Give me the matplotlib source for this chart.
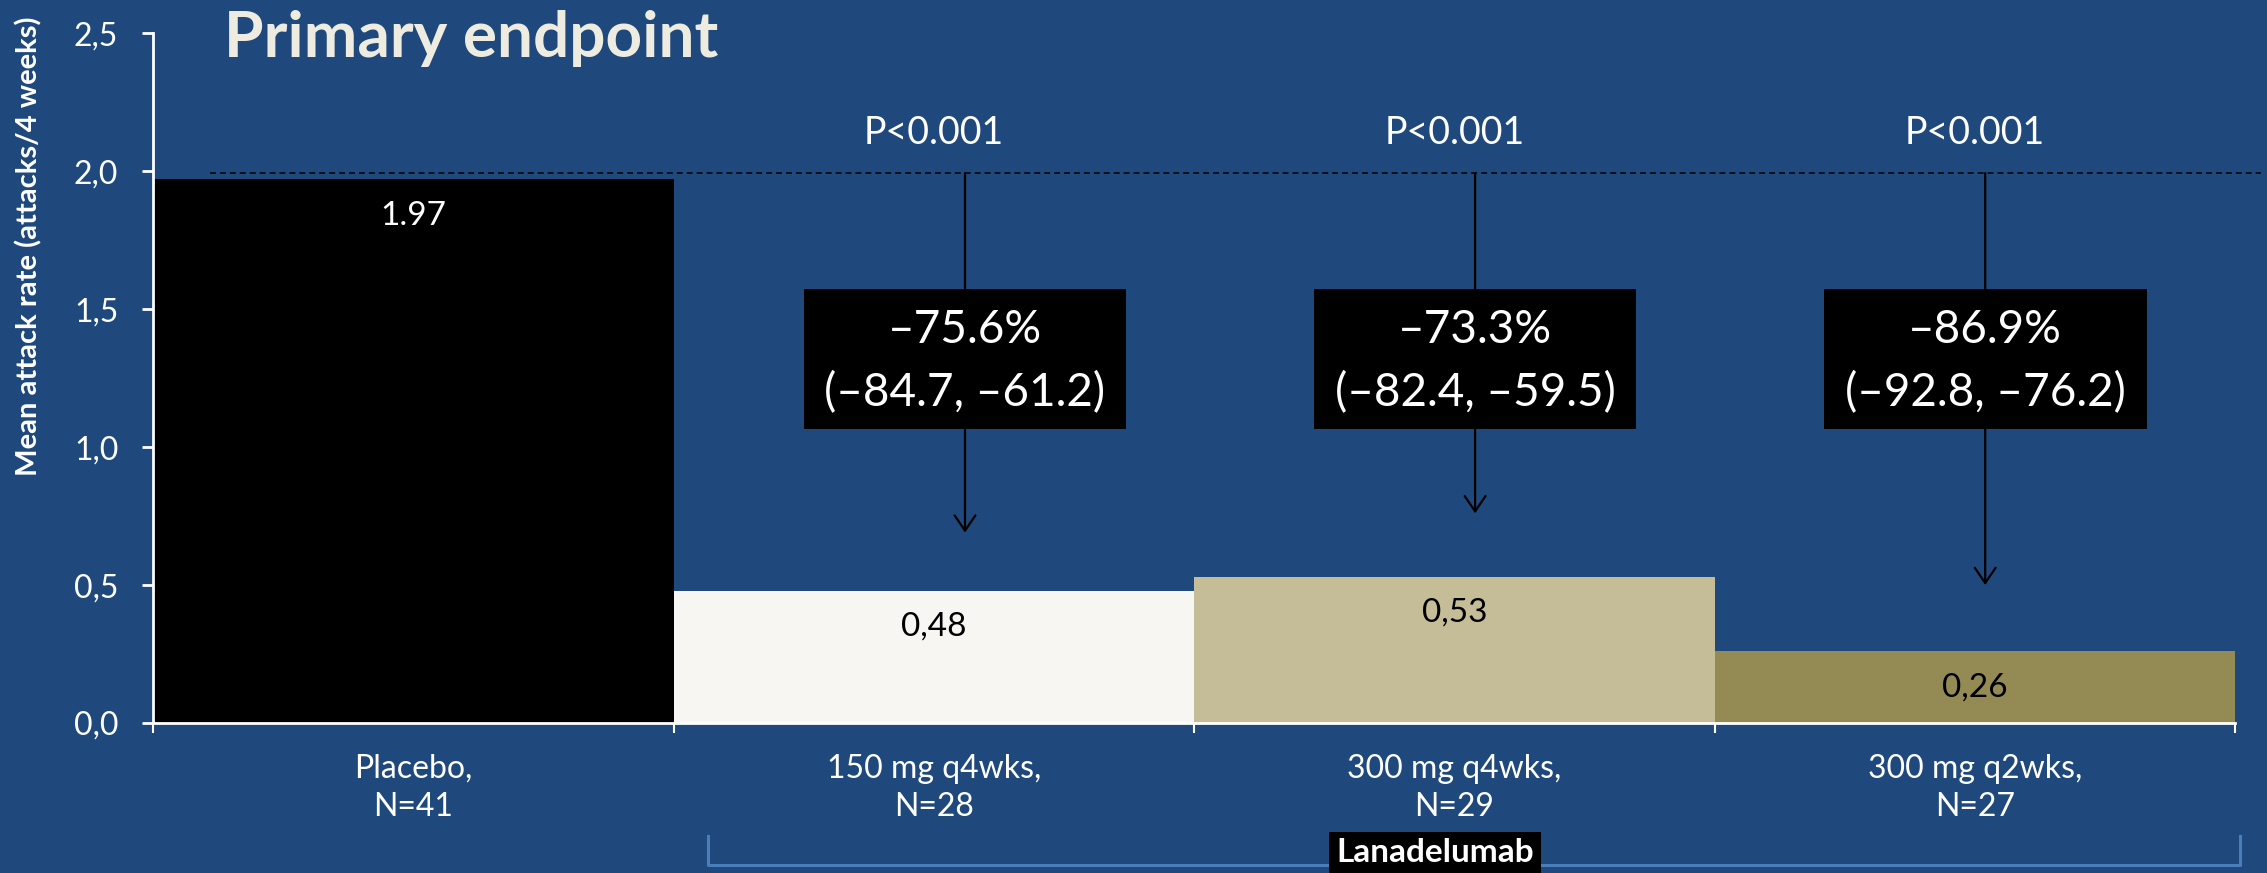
import matplotlib
matplotlib.use("Agg")
import matplotlib.pyplot as plt
from matplotlib.patches import Rectangle, FancyArrowPatch
from matplotlib.lines import Line2D

# Treatment groups and mean attack rates
groups = ["Placebo,\nN=41", "150 mg q4wks,\nN=28", "300 mg q4wks,\nN=29", "300 mg q2wks,\nN=27"]
attack_rates = [1.97, 0.48, 0.53, 0.26]
decimal_marks = [".", ",", ",", ","]
bar_colors = ["#000000", "#F7F6F2", "#C4BD97", "#948A54"]
value_colors = ["white", "black", "black", "black"]

# Reduction vs placebo for the three active arms
reduction_pct = [-75.6, -73.3, -86.9]
ci_lower = [-84.7, -82.4, -92.8]
ci_upper = [-61.2, -59.5, -76.2]
p_values = ["P<0.001", "P<0.001", "P<0.001"]

y_ticks = [0.0, 0.5, 1.0, 1.5, 2.0, 2.5]

BG = "#1F497D"
plt.rcParams["font.family"] = ["Lato", "DejaVu Sans"]

fig = plt.figure(figsize=(22.67, 8.73), dpi=100, facecolor=BG)
ax = fig.add_axes([0.0675, 0.1718, 0.9184, 0.7902])
ax.set_facecolor(BG)

x = list(range(len(groups)))
ax.bar(x, attack_rates, width=1.0, color=bar_colors, zorder=2)
ax.set_xlim(-0.5, 3.5)
ax.set_ylim(0, 2.5)

for side in ("top", "right"):
    ax.spines[side].set_visible(False)
for side in ("left", "bottom"):
    ax.spines[side].set_color("white")
    ax.spines[side].set_linewidth(2)
    ax.spines[side].set_zorder(3)

# x ticks at bar boundaries, group labels centred under each bar
ax.set_xticks([-0.5, 0.5, 1.5, 2.5, 3.5])
ax.set_xticklabels([])
ax.set_xticks(x, minor=True)
ax.set_xticklabels(groups, minor=True, linespacing=1.35)
ax.tick_params(axis="x", which="major", length=7, width=1.5, color="white", direction="out")
ax.tick_params(axis="x", which="minor", length=0, pad=22, labelsize=23, labelcolor="white")

ax.set_yticks(y_ticks)
ax.set_yticklabels([f"{v:.1f}".replace(".", ",") for v in y_ticks])
ax.tick_params(axis="y", length=8, width=2, color="white", direction="out",
               pad=17, labelsize=23, labelcolor="white")

# value labels inside bars
for i, (v, mark) in enumerate(zip(attack_rates, decimal_marks)):
    ax.annotate(f"{v:.2f}".replace(".", mark), (i, v), xytext=(0, -26),
                textcoords="offset points", ha="center", va="center",
                fontsize=24, color=value_colors[i], zorder=5)

# placebo reference line
ref_y = 1.993
ref = Line2D([-0.39, 3.55], [ref_y, ref_y], color="black", lw=1.1,
             clip_on=False, zorder=3)
ref.set_dashes([3.9, 2.6])
ax.add_line(ref)

# reduction arrows with boxed estimates
arrow_x = [1.06, 2.04, 3.02]
arrow_tip = [0.69, 0.76, 0.50]
for i, (xa, tip, r, lo, hi, p) in enumerate(
        zip(arrow_x, arrow_tip, reduction_pct, ci_lower, ci_upper, p_values), start=1):
    arr = FancyArrowPatch((xa, ref_y), (xa, tip),
                          arrowstyle="->,head_length=1.1,head_width=0.75",
                          mutation_scale=10, lw=1.6, color="black",
                          shrinkA=0, shrinkB=0, zorder=3)
    ax.add_patch(arr)
    ax.add_patch(Rectangle((xa - 0.31, 1.065), 0.62, 0.507, facecolor="black",
                           edgecolor="none", zorder=4))
    ax.text(xa, 1.424, f"\u2013{abs(r):.1f}%", ha="center", va="center",
            fontsize=33, color="white", zorder=5)
    ax.text(xa, 1.196, f"(\u2013{abs(lo):.1f}, \u2013{abs(hi):.1f})", ha="center",
            va="center", fontsize=33, color="white", zorder=5)
    ax.text(i, 2.14, p, ha="center", va="center", fontsize=27, color="white", zorder=5)

# titles and axis label
fig.text(0.0988, 0.9347, "Primary endpoint", fontsize=46, fontweight="bold",
         color="#EEECE1", ha="left", va="baseline")
fig.text(29 / 2267, 0.718, "Mean attack rate (attacks/4 weeks)", rotation=90,
         fontsize=21, fontweight="bold", color="white", ha="center", va="center")

# bracket grouping the active arms
bx0, bx1 = 708 / 2267, 2240 / 2267
by0, by1 = 1 - 865 / 873, 1 - 836 / 873
fig.add_artist(Line2D([bx0, bx0, bx1, bx1], [by1, by0, by0, by1],
                      transform=fig.transFigure, color="#4A7EBB", lw=2.2))
fig.text(1435 / 2267, 1 - 853 / 873, "Lanadelumab", fontsize=24, fontweight="bold",
         color="white", ha="center", va="center",
         bbox=dict(facecolor="black", edgecolor="none", pad=5))

fig.savefig("out.png", dpi=100, facecolor=BG)
